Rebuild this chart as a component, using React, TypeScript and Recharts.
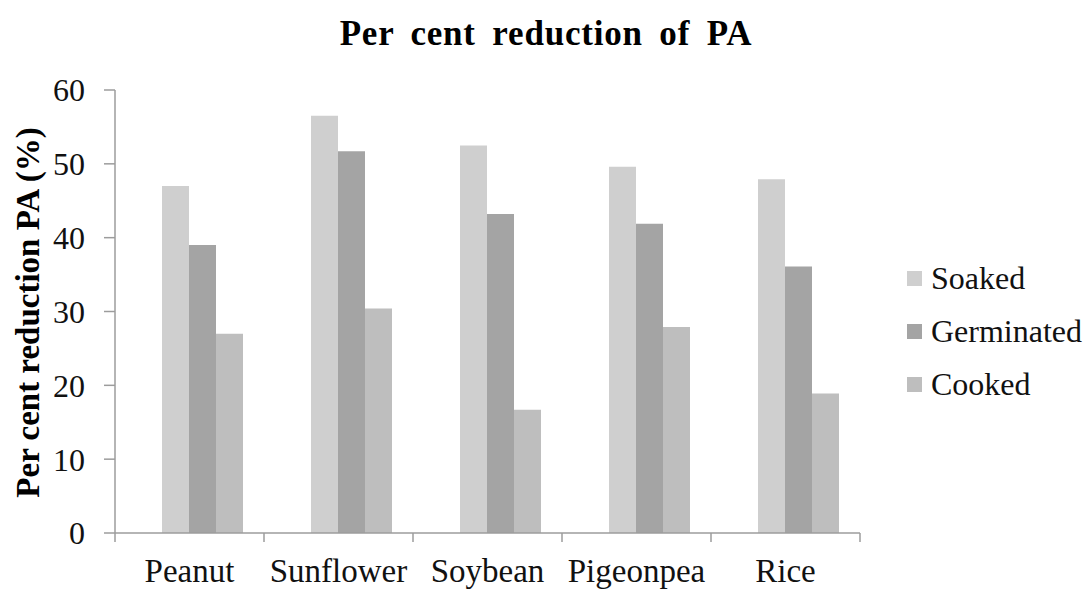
import React from 'react';
import { BarChart, Bar, XAxis, YAxis, Legend } from 'recharts';

const crops = ['Peanut', 'Sunflower', 'Soybean', 'Pigeonpea', 'Rice'];
const soaked = [47.0, 56.5, 52.5, 49.6, 47.9];
const germinated = [39.0, 51.7, 43.2, 41.9, 36.1];
const cooked = [27.0, 30.4, 16.7, 27.9, 18.9];
const yTicks = [0, 10, 20, 30, 40, 50, 60];

const seriesNames = ['Soaked', 'Germinated', 'Cooked'];
const seriesColors = ['#cfcfcf', '#a4a4a4', '#bebebe'];

const W = 1092;
const H = 589;
const FONT = '"Liberation Serif", "Times New Roman", serif';
const AXIS = '#9c9c9c';

const MARGIN = { top: 90, right: 40, bottom: 0, left: 0 };
const Y_WIDTH = 115;
const LEGEND_W = 192;
const plotWidth = W - MARGIN.left - MARGIN.right - LEGEND_W - Y_WIDTH;
const halfBand = plotWidth / crops.length / 2;

const data = crops.map((crop, i) => ({
  crop,
  Soaked: soaked[i],
  Germinated: germinated[i],
  Cooked: cooked[i],
}));

// category label + Excel style tick marks between categories
const CropTick = (props: any) => {
  const { x, y, payload, index } = props;
  const last = index === crops.length - 1;
  return (
    <g>
      <line x1={x - halfBand} y1={y} x2={x - halfBand} y2={y + 9} stroke={AXIS} strokeWidth={1.5} />
      {last && <line x1={x + halfBand} y1={y} x2={x + halfBand} y2={y + 9} stroke={AXIS} strokeWidth={1.5} />}
      <text x={x} y={y + 49} textAnchor="middle" fontFamily={FONT} fontSize={33} fill="#111">
        {payload.value}
      </text>
    </g>
  );
};

const YLabel = (props: any) => {
  const { viewBox } = props;
  const cy = viewBox.y + viewBox.height / 2 + 1;
  return (
    <text
      x={39}
      y={cy}
      transform={`rotate(-90, 39, ${cy})`}
      textAnchor="middle"
      fontFamily={FONT}
      fontWeight="bold"
      fontSize={33}
      fill="#000"
    >
      Per cent reduction PA (%)
    </text>
  );
};

const LegendBox = () => (
  <div style={{ fontFamily: FONT, fontSize: 32, color: '#111' }}>
    {seriesNames.map((name, i) => (
      <div key={name} style={{ display: 'flex', alignItems: 'center', height: 53 }}>
        <span style={{ width: 15, height: 15, background: seriesColors[i], marginRight: 9, marginLeft: 7 }} />
        <span>{name}</span>
      </div>
    ))}
  </div>
);

export default function App() {
  return (
    <div style={{ position: 'absolute', left: 0, top: 0, width: W, height: H, background: '#fff' }}>
      <div
        style={{
          position: 'absolute',
          left: 0,
          width: 1092,
          top: 14,
          textAlign: 'center',
          fontFamily: FONT,
          fontWeight: 'bold',
          fontSize: 35,
          letterSpacing: 0.8,
          wordSpacing: 7,
          color: '#000',
          lineHeight: '40px',
        }}
      >
        Per cent reduction of PA
      </div>
      <BarChart
        width={W}
        height={H}
        data={data}
        margin={MARGIN}
        barCategoryGap={20}
        barGap={0}
      >
        <XAxis
          dataKey="crop"
          height={56}
          axisLine={{ stroke: AXIS, strokeWidth: 1.5 }}
          tickLine={false}
          tickSize={0}
          tickMargin={0}
          interval={0}
          tick={<CropTick />}
        />
        <YAxis
          width={Y_WIDTH}
          domain={[0, 60]}
          ticks={yTicks}
          interval={0}
          axisLine={{ stroke: AXIS, strokeWidth: 1.5 }}
          tickLine={{ stroke: AXIS, strokeWidth: 1.5 }}
          tickSize={11}
          tickMargin={19}
          tick={{ fontFamily: FONT, fontSize: 32, fill: '#111' }}
          label={<YLabel />}
        />
        <Legend
          layout="vertical"
          align="right"
          verticalAlign="middle"
          content={<LegendBox />}
          wrapperStyle={{ left: 900, top: 252, width: LEGEND_W }}
        />
        {/* empty first slot, the source chart leaves one bar width free on the left of each group */}
        <Bar dataKey="blank" fill="none" legendType="none" isAnimationActive={false} />
        {seriesNames.map((name, i) => (
          <Bar key={name} dataKey={name} fill={seriesColors[i]} isAnimationActive={false} />
        ))}
      </BarChart>
    </div>
  );
}
